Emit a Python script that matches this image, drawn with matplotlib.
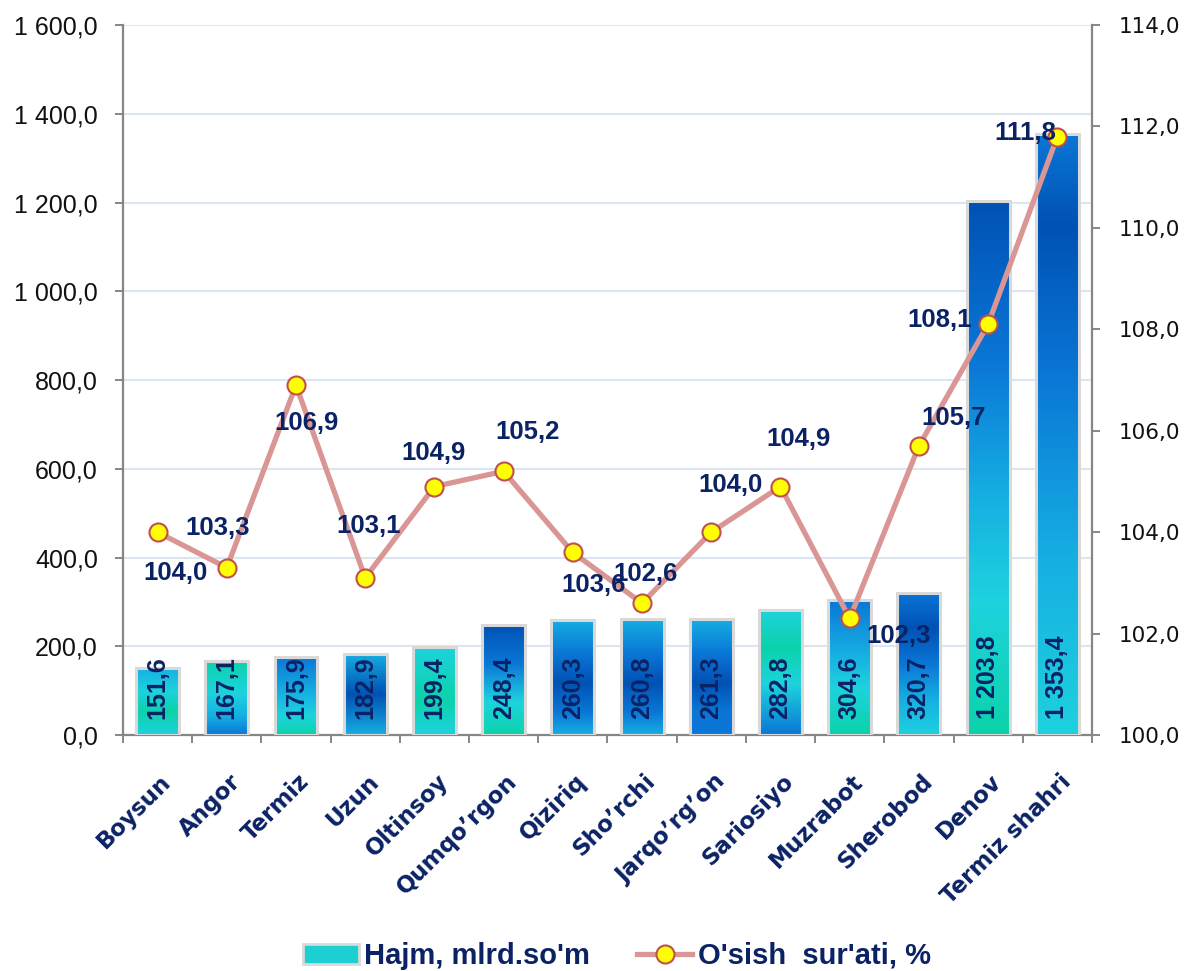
import numpy as np
import matplotlib
matplotlib.use("Agg")
import matplotlib.pyplot as plt
from matplotlib.colors import LinearSegmentedColormap
from matplotlib.patches import Patch
from matplotlib.lines import Line2D
from matplotlib.transforms import ScaledTranslation

# =====================================================
# DATA
# =====================================================

districts = ["Boysun", "Angor", "Termiz", "Uzun", "Oltinsoy", "Qumqo’rgon",
             "Qiziriq", "Sho’rchi", "Jarqo’rg’on", "Sariosiyo", "Muzrabot",
             "Sherobod", "Denov", "Termiz shahri"]

volume = [151.6, 167.1, 175.9, 182.9, 199.4, 248.4, 260.3,
          260.8, 261.3, 282.8, 304.6, 320.7, 1203.8, 1353.4]

growth = [104.0, 103.3, 106.9, 103.1, 104.9, 105.2, 103.6,
          102.6, 104.0, 104.9, 102.3, 105.7, 108.1, 111.8]

left_ticks = [0, 200, 400, 600, 800, 1000, 1200, 1400, 1600]
right_ticks = [100, 102, 104, 106, 108, 110, 112, 114]

volume_label = "Hajm, mlrd.so'm"
growth_label = "O'sish  sur'ati, %"

# =====================================================
# STYLE
# =====================================================

navy = "#0B2265"
spine_gray = "#868686"
grid_color = "#DCE6F2"
line_color = "#D99694"

pal = {
    "b": "#0A76D6",
    "db": "#0052B4",
    "lb": "#16AEE2",
    "cy": "#1ED2DE",
    "g": "#0BD3AA",
}

# gradient stops per bar, top -> bottom
bar_grads = [
    [(0, "lb"), (0.35, "cy"), (0.65, "g"), (1, "cy")],
    [(0, "g"), (0.45, "cy"), (0.75, "lb"), (1, "b")],
    [(0, "b"), (0.45, "lb"), (0.75, "cy"), (1, "g")],
    [(0, "lb"), (0.5, "db"), (1, "lb")],
    [(0, "cy"), (0.6, "g"), (1, "cy")],
    [(0, "db"), (0.35, "b"), (0.7, "cy"), (1, "g")],
    [(0, "lb"), (0.3, "b"), (0.55, "db"), (0.8, "b"), (1, "lb")],
    [(0, "lb"), (0.3, "b"), (0.55, "db"), (0.8, "b"), (1, "lb")],
    [(0, "lb"), (0.3, "b"), (0.55, "db"), (0.8, "b"), (1, "b")],
    [(0, "cy"), (0.3, "g"), (0.6, "cy"), (1, "b")],
    [(0, "b"), (0.4, "lb"), (0.65, "cy"), (1, "g")],
    [(0, "b"), (0.25, "db"), (0.5, "b"), (0.75, "lb"), (1, "cy")],
    [(0, "db"), (0.3, "b"), (0.55, "lb"), (0.75, "cy"), (1, "g")],
    [(0, "b"), (0.15, "db"), (0.4, "b"), (0.7, "lb"), (1, "cy")],
]

# label offsets in pixels for the growth values
growth_offsets = [(18, -41), (-9, 40), (11, -38), (3, 52), (-1, 34), (24, 39),
                  (21, -33), (3, 29), (19, 47), (18, 48), (49, -18), (35, 28),
                  (-48, 4), (-32, 4)]


def fmt(v):
    return f"{v:,.1f}".replace(",", " ").replace(".", ",")


# =====================================================
# FIGURE
# =====================================================

fig = plt.figure(figsize=(11.87, 9.71), dpi=100)
ax = fig.add_axes([0.1036, 0.2430, 0.8163, 0.7312])
ax2 = ax.twinx()

x = np.arange(len(districts))
width = 0.62

# gradient bars
grad = np.linspace(0, 1, 256).reshape(-1, 1)
for i, (xi, v) in enumerate(zip(x, volume)):
    cmap = LinearSegmentedColormap.from_list(
        f"bar{i}", [(p, pal[c]) for p, c in bar_grads[i]])
    ax.imshow(grad, cmap=cmap, extent=[xi - width / 2, xi + width / 2, 0, v],
              origin="upper", aspect="auto", zorder=2, interpolation="bilinear")

ax.bar(x, volume, width=width, facecolor="none", edgecolor="#D9D9D9",
       linewidth=2.2, zorder=3)

for xi, v in zip(x, volume):
    ax.annotate(fmt(v), xy=(xi, 0), xytext=(0, 16), textcoords="offset pixels",
                rotation=90, ha="center", va="bottom", color=navy,
                fontsize=18, fontweight="bold", family="Liberation Sans",
                zorder=4)

# growth line
ax2.plot(x, growth, color=line_color, linewidth=3.8, marker="o",
         markersize=13, markerfacecolor="#FFFF00", markeredgecolor="#C0504D",
         markeredgewidth=1.5, zorder=5)

for xi, g, (dx, dy) in zip(x, growth, growth_offsets):
    ax2.annotate(fmt(g), xy=(xi, g), xytext=(dx, dy),
                 textcoords="offset pixels", ha="center", va="center",
                 color=navy, fontsize=18.5, fontweight="bold",
                 family="Liberation Sans", zorder=6)

# =====================================================
# AXES
# =====================================================

ax.set_xlim(-0.5, len(districts) - 0.5)
ax.set_ylim(0, 1600)
ax2.set_ylim(100, 114)

ax.set_yticks(left_ticks)
ax.set_yticklabels([fmt(t) for t in left_ticks], fontsize=18,
                   family="Liberation Sans", color="#111111")
ax2.set_yticks(right_ticks)
ax2.set_yticklabels([fmt(t) for t in right_ticks], fontsize=15.5,
                    family="DejaVu Sans", color="#111111")

ax.tick_params(axis="y", length=6, width=1.4, color=spine_gray, pad=12)
ax2.tick_params(axis="y", length=6, width=1.4, color=spine_gray, pad=13)

ax.set_xticks(x)
ax.set_xticklabels(districts, rotation=45, ha="right", va="top",
                   rotation_mode="anchor", fontsize=16.5, fontweight="bold",
                   family="DejaVu Sans", color=navy)
ax.set_xticks(np.arange(-0.5, len(districts)), minor=True)
ax.tick_params(axis="x", which="major", length=0, pad=25)
ax.tick_params(axis="x", which="minor", length=6, width=1.4, color=spine_gray)
shift = ScaledTranslation(2 / 100, 0, fig.dpi_scale_trans)
for lab in ax.get_xticklabels():
    lab.set_transform(lab.get_transform() + shift)

ax.set_axisbelow(True)
ax.yaxis.grid(True, color=grid_color, linewidth=1.5)

for a in (ax, ax2):
    a.spines["top"].set_visible(False)
ax.spines["right"].set_visible(False)
ax.spines["left"].set_color(spine_gray)
ax.spines["bottom"].set_color(spine_gray)
ax.spines["left"].set_linewidth(1.6)
ax.spines["bottom"].set_linewidth(1.6)
ax2.spines["left"].set_visible(False)
ax2.spines["bottom"].set_visible(False)
ax2.spines["right"].set_color(spine_gray)
ax2.spines["right"].set_linewidth(1.6)

# =====================================================
# LEGEND
# =====================================================

handles = [
    Patch(facecolor="#1CCFD0", edgecolor="#D9D9D9", linewidth=2),
    Line2D([], [], color=line_color, linewidth=3.8, marker="o", markersize=13,
           markerfacecolor="#FFFF00", markeredgecolor="#C0504D",
           markeredgewidth=1.5),
]
leg = fig.legend(handles, [volume_label, growth_label], loc="lower center",
                 bbox_to_anchor=(0.52, -0.026), ncol=2, frameon=False,
                 handlelength=1.9, handletextpad=0.2, columnspacing=1.6,
                 prop={"family": "Liberation Sans", "weight": "bold",
                       "size": 21})
for t in leg.get_texts():
    t.set_color(navy)

fig.savefig("out.png", dpi=100)
